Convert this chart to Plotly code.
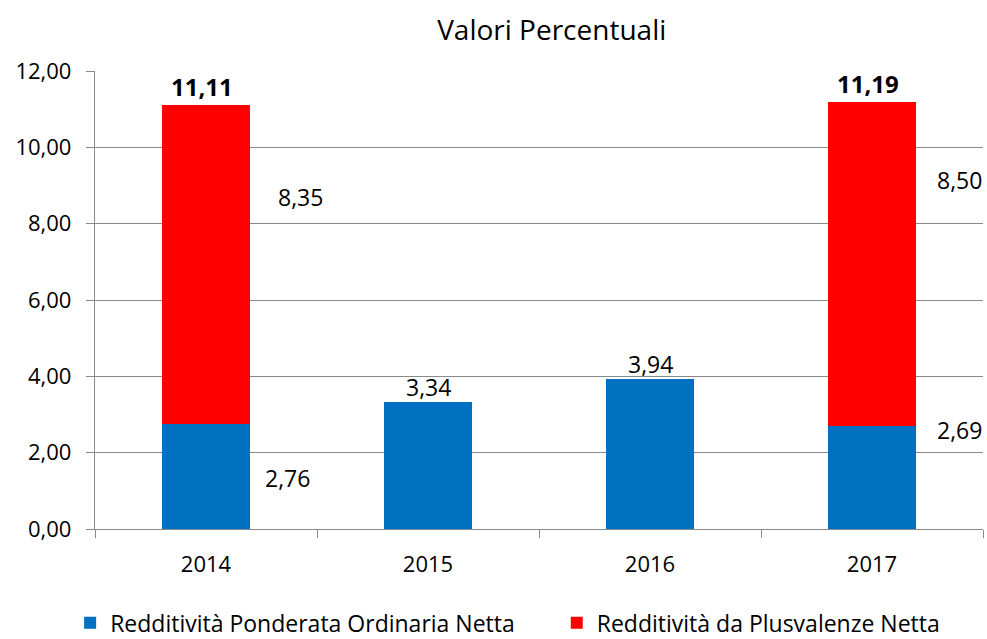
import plotly.graph_objects as go

years = ["2014", "2015", "2016", "2017"]
ordinaria = [2.76, 3.34, 3.94, 2.69]
plusvalenze = [8.35, None, None, 8.50]
totali = [11.11, None, None, 11.19]
series_names = ["Redditività Ponderata Ordinaria Netta", "Redditività da Plusvalenze Netta"]
y_ticks = [0, 2, 4, 6, 8, 10, 12]

BLUE = "#0070C0"
RED = "#FF0000"
GRID = "#8A8A8A"
FONT = "Open Sans"


def it(v):
    return f"{v:.2f}".replace(".", ",")


fig = go.Figure()
fig.add_trace(go.Bar(x=years, y=ordinaria, name=series_names[0], marker_color=BLUE,
                     marker_line_width=0, legend="legend"))
fig.add_trace(go.Bar(x=years, y=plusvalenze, name=series_names[1], marker_color=RED,
                     marker_line_width=0, legend="legend2"))

ann = []
lab_font = dict(family=FONT, size=23, color="black")
# labels above single bars
for i, v in enumerate(ordinaria):
    if plusvalenze[i] is None:
        ann.append(dict(x=i, y=v, text=it(v), showarrow=False, yanchor="middle",
                        yshift=15, font=lab_font))
# side labels of stacked bars (placed as in the reference)
ann.append(dict(x=0, y=ordinaria[0] / 2, text=it(ordinaria[0]), showarrow=False,
                xshift=81, yshift=-2, font=lab_font))
ann.append(dict(x=0, y=totali[0], text=it(plusvalenze[0]), showarrow=False,
                xshift=94, yshift=-92, font=lab_font))
ann.append(dict(x=3, y=ordinaria[3], text=it(ordinaria[3]), showarrow=False,
                xshift=87, yshift=-4, font=lab_font))
ann.append(dict(x=3, y=totali[3], text=it(plusvalenze[3]), showarrow=False,
                xshift=87, yshift=-78, font=lab_font))
for i, t in enumerate(totali):
    if t is not None:
        ann.append(dict(x=i, y=t, text="<b>" + it(t) + "</b>", showarrow=False,
                        yanchor="middle", yshift=18, xshift=-4,
                        font=dict(family=FONT, size=24, color="black")))

leg_font = dict(family=FONT, size=23, color="black")
fig.update_layout(
    barmode="stack",
    bargap=0.6,
    width=987, height=639,
    margin=dict(l=95, r=4, t=71, b=110, autoexpand=False),
    paper_bgcolor="white", plot_bgcolor="white",
    separators=",.",
    title=dict(text="Valori Percentuali", x=0.559, xanchor="center", y=0.953,
               yanchor="middle", font=dict(family=FONT, size=28, color="black")),
    font=dict(family=FONT, size=22, color="black"),
    showlegend=True,
    legend=dict(orientation="h", x=-0.028, xanchor="left", y=-0.205, yanchor="middle",
                font=leg_font, itemwidth=30, bgcolor="rgba(0,0,0,0)"),
    legend2=dict(orientation="h", x=0.52, xanchor="left", y=-0.205, yanchor="middle",
                 font=leg_font, itemwidth=30, bgcolor="rgba(0,0,0,0)"),
    annotations=ann,
)
fig.update_xaxes(type="category", range=[-0.5, 3.5], showline=True, linecolor=GRID,
                 linewidth=1.3, ticks="outside", tickson="boundaries", ticklen=8,
                 tickcolor=GRID, tickwidth=1.3, ticklabelstandoff=15, automargin=False,
                 tickfont=dict(family=FONT, size=22, color="black"), showgrid=False)
fig.update_yaxes(range=[0, 12], tickvals=y_ticks, tickformat=".2f", showline=True,
                 linecolor=GRID, linewidth=1.3, ticks="outside", ticklen=8,
                 tickcolor=GRID, tickwidth=1.3, showgrid=True, gridcolor=GRID,
                 gridwidth=1.3, zeroline=False, ticklabelstandoff=10, automargin=False,
                 tickfont=dict(family=FONT, size=22, color="black"))

fig.write_html("out.html", config={"displayModeBar": False},
               post_script="document.body.style.margin='0';document.body.style.overflow='hidden';")
